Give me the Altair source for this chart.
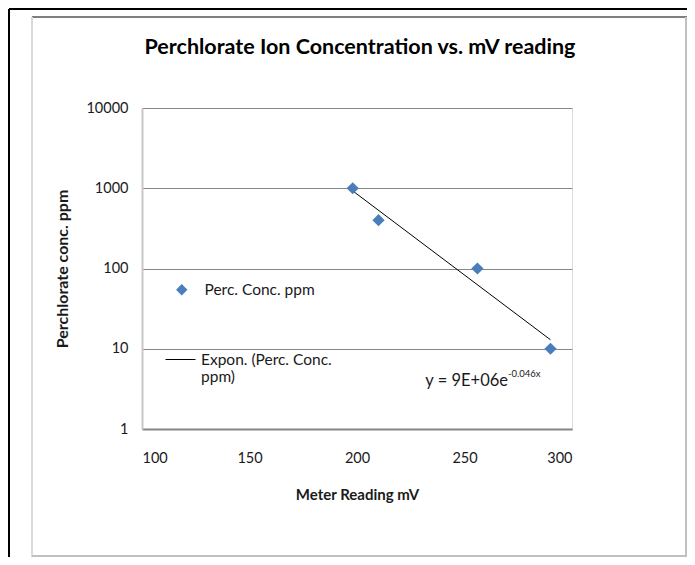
import altair as alt
import pandas as pd

# ---- data ----
mv = [198, 210, 256, 290]
ppm = [1000, 400, 100, 10]
series_name = "Perc. Conc. ppm"
trend_name = "Expon. (Perc. Conc. ppm)"
trend_label_lines = ["Expon. (Perc. Conc.", "ppm)"]
x_ticks = [100, 150, 200, 250, 300]
y_ticks = [1, 10, 100, 1000, 10000]
title_text = "Perchlorate Ion Concentration vs. mV reading"
x_title = "Meter Reading mV"
y_title = "Perchlorate conc. ppm"
eq_main = "y = 9E+06e"
eq_sup = "-0.046x"

df = pd.DataFrame({"mv": mv, "ppm": ppm, "series": [series_name] * len(mv)})

FONT = "Lato"
TXT = "#1a1a1a"

xscale = alt.Scale(domain=[100, 300], nice=False)
yscale = alt.Scale(type="log", domain=[1, 10000], nice=False)

xaxis = alt.Axis(values=x_ticks, grid=False, ticks=False, domainColor="#868686",
                 domainWidth=2, labelFontSize=14.5, labelPadding=22, labelFont=FONT,
                 labelColor=TXT, title=x_title, titleFont=FONT, titleFontSize=15,
                 titleFontWeight="bold", titleColor=TXT, titlePadding=23)
yaxis = alt.Axis(values=y_ticks, format="d", grid=True, gridColor="#868686",
                 gridWidth=1, ticks=False, domainColor="#c8c8c8", domainWidth=2,
                 labelFontSize=14.5, labelPadding=14, labelFont=FONT, labelColor=TXT,
                 title=y_title, titleFont=FONT, titleFontSize=16,
                 titleFontWeight="bold", titleColor=TXT, titlePadding=15)

base = alt.Chart(df)

# Excel-style exponential trendline: least squares on ln(y)
trend = base.transform_calculate(
    lny="log(datum.ppm)"
).transform_regression(
    "mv", "lny", method="linear"
).transform_calculate(
    ppm="exp(datum.lny)", trend=f"'{trend_name}'"
).mark_line(strokeWidth=1).encode(
    x=alt.X("mv:Q", scale=xscale, axis=xaxis),
    y=alt.Y("ppm:Q", scale=yscale, axis=yaxis),
    color=alt.Color("trend:N", scale=alt.Scale(domain=[trend_name], range=["black"]),
                    legend=alt.Legend(title=None, orient="none", legendX=23, legendY=236,
                                      symbolType="stroke", symbolSize=900,
                                      symbolStrokeWidth=1, labelFont=FONT,
                                      labelFontSize=15.5, labelColor=TXT, labelOffset=5,
                                      padding=0, labelLimit=300,
                                      labelExpr=str(trend_label_lines))),
)

points = base.mark_point(filled=True, size=150, color="#4a7ebb", opacity=1).encode(
    x=alt.X("mv:Q", scale=xscale, axis=xaxis),
    y=alt.Y("ppm:Q", scale=yscale, axis=yaxis),
    shape=alt.Shape("series:N", scale=alt.Scale(domain=[series_name], range=["diamond"]),
                    legend=alt.Legend(title=None, orient="none", legendX=32, legendY=174,
                                      symbolSize=130, symbolFillColor="#4a7ebb",
                                      symbolStrokeWidth=0, labelFont=FONT,
                                      labelFontSize=15.5, labelColor=TXT, labelOffset=15,
                                      padding=0)),
)

one = alt.Data(values=[{}])
title_mark = alt.Chart(one).mark_text(align="center", baseline="middle", font=FONT,
                                      fontSize=21.5, fontWeight="bold",
                                      color="#000000").encode(
    x=alt.value(218), y=alt.value(-60), text=alt.value(title_text))
eq1 = alt.Chart(one).mark_text(align="right", baseline="middle", font=FONT,
                               fontSize=16.5, color=TXT).encode(
    x=alt.value(366), y=alt.value(273), text=alt.value(eq_main))
eq2 = alt.Chart(one).mark_text(align="left", baseline="middle", font=FONT,
                               fontSize=9.5, color=TXT).encode(
    x=alt.value(366), y=alt.value(266), text=alt.value(eq_sup))


def rule(x1, y1, x2, y2, color, w):
    return alt.Chart(one).mark_rule(color=color, strokeWidth=w).encode(
        x=alt.value(x1), y=alt.value(y1), x2=alt.value(x2), y2=alt.value(y2))


frame = [
    rule(-133, -99, 548, -99, "#000000", 2),
    rule(-133, -99, -133, 450, "#000000", 2),
    rule(-110, -91, 545, -91, "#7f7f7f", 2),
    rule(-110, -91, -110, 450, "#d9d9d9", 2),
    rule(544, -91, 544, 450, "#c0c0c0", 2),
    rule(-110, 448, 545, 448, "#c0c0c0", 2),
]

chart = alt.layer(*frame, title_mark, trend, points, eq1, eq2).properties(
    width=430, height=321,
    autosize=alt.AutoSizeParams(type="none"),
    padding={"left": 134, "top": 100, "right": 115, "bottom": 128},
).resolve_legend(shape="independent", color="independent").configure_view(
    stroke=None
).configure(background="white")

chart.save("out.html", embed_options={"renderer": "svg", "actions": False})
